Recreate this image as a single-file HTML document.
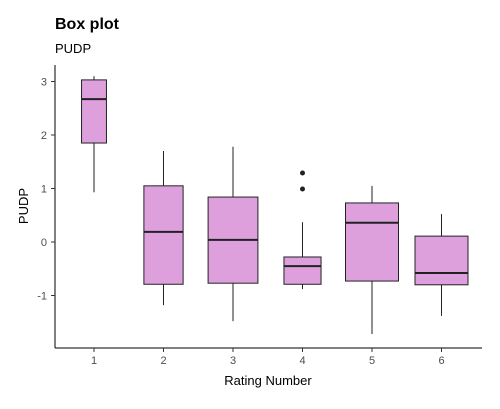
<!DOCTYPE html>
<html><head><meta charset="utf-8"><style>
body{margin:0;background:#fff;font-family:"Liberation Sans",sans-serif}
</style></head><body>
<svg width="500" height="404">
<text x="55" y="29" font-size="16" font-weight="bold" fill="#000">Box plot</text>
<text x="55" y="53" font-size="13" fill="#000">PUDP</text>
<g id="plot"></g>
<text x="268" y="385" font-size="13" text-anchor="middle" fill="#000">Rating Number</text>
<text transform="translate(28,206) rotate(-90)" font-size="13" text-anchor="middle" fill="#000">PUDP</text>
</svg>
<script>
const categories=["1","2","3","4","5","6"];
const whiskerHigh=[3.10,1.70,1.78,0.37,1.05,0.52];
const q3=[3.03,1.05,0.84,-0.28,0.73,0.11];
const medians=[2.67,0.19,0.04,-0.45,0.36,-0.58];
const q1=[1.85,-0.79,-0.77,-0.79,-0.73,-0.80];
const whiskerLow=[0.93,-1.18,-1.48,-0.88,-1.72,-1.38];
const relWidth=[0.47,0.74,0.94,0.70,1,1];
const outliers=[[],[],[],[1.29,0.99],[],[]];
const yTicks=[-1,0,1,2,3];
const NS="http://www.w3.org/2000/svg";
const g=document.getElementById('plot');
const y=v=>242-v*53.5;
const x=i=>94+i*69.5;
function mk(t,a){const e=document.createElementNS(NS,t);for(const k in a)e.setAttribute(k,a[k]);g.appendChild(e);return e;}
let ax=mk('line',{x1:55,y1:65,x2:55,y2:348,stroke:'#000','stroke-width':1});


ax=mk('line',{x1:55,y1:348,x2:482,y2:348,stroke:'#000','stroke-width':1});


yTicks.forEach(v=>{
 const l=mk('line',{x1:51,x2:55,y1:y(v),y2:y(v),stroke:'#333'});
 
 
 const t=mk('text',{x:47,y:y(v)+4,'font-size':11,'text-anchor':'end',fill:'#4d4d4d'});
 t.textContent=v;
 
 
});
categories.forEach((c,i)=>{
 const cx=x(i),hw=26.5*relWidth[i];
 const l=mk('line',{x1:cx,x2:cx,y1:348,y2:352,stroke:'#333'});
 
 
 const t=mk('text',{x:cx,y:364,'font-size':11,'text-anchor':'middle',fill:'#4d4d4d'});
 t.textContent=c;
 
 
 const w=mk('line',{x1:cx,x2:cx,y1:y(whiskerHigh[i]),y2:y(whiskerLow[i]),stroke:'#222','stroke-width':1});
 
 
 const b=mk('rect',{x:cx-hw,y:y(q3[i]),width:2*hw,height:y(q1[i])-y(q3[i]),fill:'#DDA0DD',stroke:'#222','stroke-width':1});
 
 
 const m=mk('line',{x1:cx-hw,x2:cx+hw,y1:y(medians[i]),y2:y(medians[i]),stroke:'#222','stroke-width':2});
 
 
 outliers[i].forEach(v=>{
  const o=mk('circle',{cx:cx,cy:y(v),r:2.5,fill:'#222'});
  
  
 });
});
</script>
</body></html>
